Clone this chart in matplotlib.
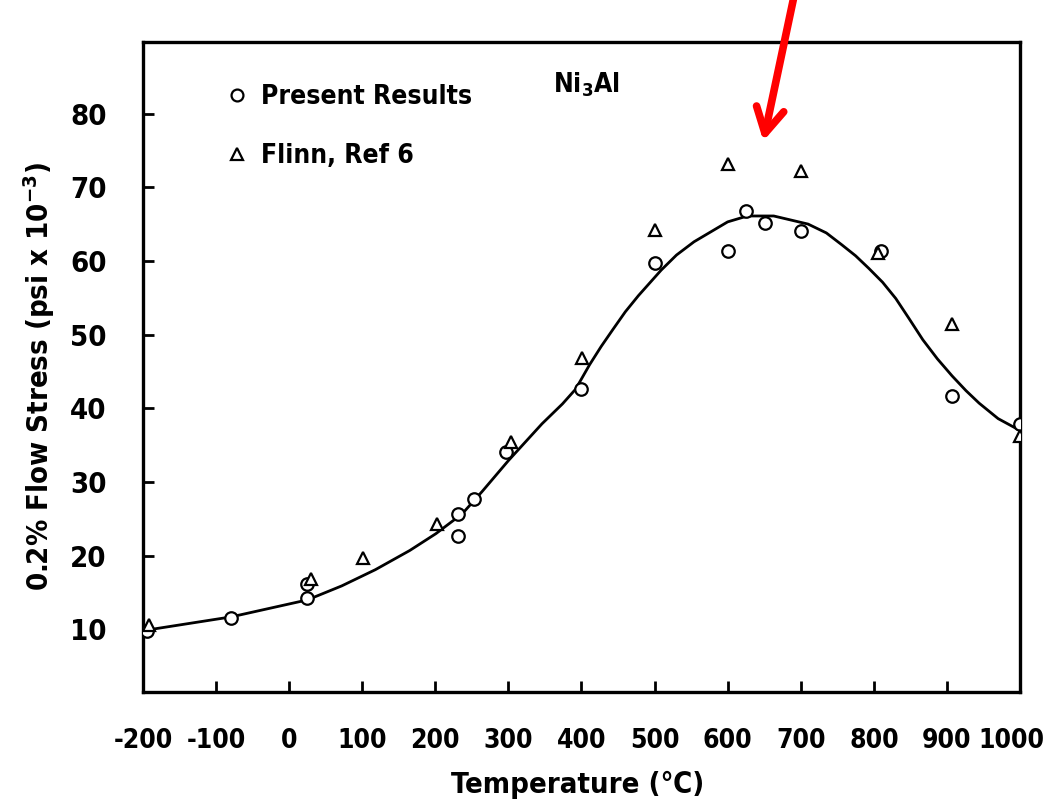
import matplotlib
matplotlib.use('Agg')
import matplotlib.pyplot as plt
from matplotlib import font_manager as fm
from matplotlib.transforms import ScaledTranslation

# look for a narrow bold face; fall back to DejaVu Sans
narrow = [f for f in fm.fontManager.ttflist
          if f.weight in ('bold', 700)
          and (f.stretch in ('condensed', 'semi-condensed', 'extra-condensed')
               or 'Narrow' in f.name or 'Condensed' in f.name)]
if narrow:
    fam, stretch, fs = narrow[0].name, narrow[0].stretch, 20
else:
    fam, stretch, fs = 'DejaVu Sans', 'normal', 17
plt.rcParams['font.family'] = [fam, 'DejaVu Sans']
plt.rcParams['font.stretch'] = stretch
plt.rcParams['font.weight'] = 'bold'
plt.rcParams['axes.unicode_minus'] = False
plt.rcParams['mathtext.default'] = 'regular'

# Present Results (circles)
present_T = [-195, -80, 25, 25, 231, 231, 253, 297, 400, 500, 600, 625, 651, 701, 810, 907, 1000]
present_S = [9.8, 11.5, 16.1, 14.2, 25.6, 22.7, 27.7, 34.1, 42.6, 59.7, 61.3, 66.8, 65.2, 64.1, 61.4, 41.7, 37.9]

# Flinn, Ref 6 (triangles)
flinn_T = [-192, 30, 101, 203, 303, 401, 501, 600, 700, 806, 907, 1000]
flinn_S = [10.6, 16.9, 19.7, 24.3, 35.4, 46.8, 64.2, 73.1, 72.2, 61.1, 51.5, 36.2]

# fitted curve
curve_T = [-200, -195, -79, 25, 72, 118, 165, 201, 237, 264, 300, 346, 374, 392, 411, 427, 443,
           460, 478, 509, 530, 554, 600, 627, 663, 710, 735, 756, 775, 793, 812, 830, 848, 867,
           887, 907, 926, 944, 970, 996, 1000]
curve_S = [9.7, 9.9, 11.7, 14.0, 15.9, 18.1, 20.7, 23.0, 25.7, 28.7, 32.9, 37.9, 40.6, 42.6, 45.9, 48.4, 50.7,
           53.1, 55.3, 58.75, 60.8, 62.6, 65.3, 66.1, 66.1, 65.0, 63.8, 62.2, 60.7, 59.0, 57.1, 54.9, 52.2, 49.3,
           46.7, 44.4, 42.4, 40.7, 38.6, 37.2, 37.0]

xticks = list(range(-200, 1001, 100))
yticks = list(range(10, 81, 10))

fig = plt.figure(figsize=(10.43, 8.09), dpi=100)
ax = fig.add_axes([0.137, 0.1446, 0.841, 0.8034])

ax.plot(curve_T, curve_S, color='black', lw=2.0, zorder=2, solid_joinstyle='round')
ax.plot(present_T, present_S, 'o', ms=9, mfc='white', mec='black', mew=1.6,
        label='Present Results', zorder=3)
ax.plot(flinn_T, flinn_S, '^', ms=9, mfc='white', mec='black', mew=1.6,
        label='Flinn, Ref 6', zorder=3)

ax.set_xlim(-200, 1000)
ax.set_ylim(1.5, 89.7)
ax.set_xticks(xticks)
ax.set_yticks(yticks)
ax.tick_params(direction='in', length=8, width=2, labelsize=fs + 1)
ax.tick_params(axis='x', pad=26, labelsize=fs - 1)
ax.tick_params(axis='y', pad=26)
for s in ax.spines.values():
    s.set_linewidth(2.4)

# keep "1000" inside the picture
last = ax.get_xticklabels()[-1]
last.set_transform(last.get_transform() + ScaledTranslation(-6 / 72, 0, fig.dpi_scale_trans))

ax.set_xlabel('Temperature (\u2103)', fontsize=fs + 1, fontweight='bold')
ax.set_ylabel('0.2% Flow Stress (psi x 10$^{-3}$)', fontsize=fs + 1, fontweight='bold')
ax.xaxis.set_label_coords(0.496, -0.121)
ax.yaxis.set_label_coords(-0.098, 0.485)

ax.legend(loc='upper left', bbox_to_anchor=(0.065, 0.972), frameon=False, fontsize=fs - 1,
          handlelength=1.0, handletextpad=0.4, labelspacing=1.25, markerscale=0.95)

ax.text(0.506, 0.935, 'Ni$_3$Al', transform=ax.transAxes, ha='center', va='center', fontsize=fs - 1)

ax.annotate('', xy=(648, 75.9), xytext=(692, 96.5),
            arrowprops=dict(arrowstyle='->,head_length=1.8,head_width=1.0', color='red', lw=5.5),
            annotation_clip=False)

fig.savefig('out.png', dpi=100)
